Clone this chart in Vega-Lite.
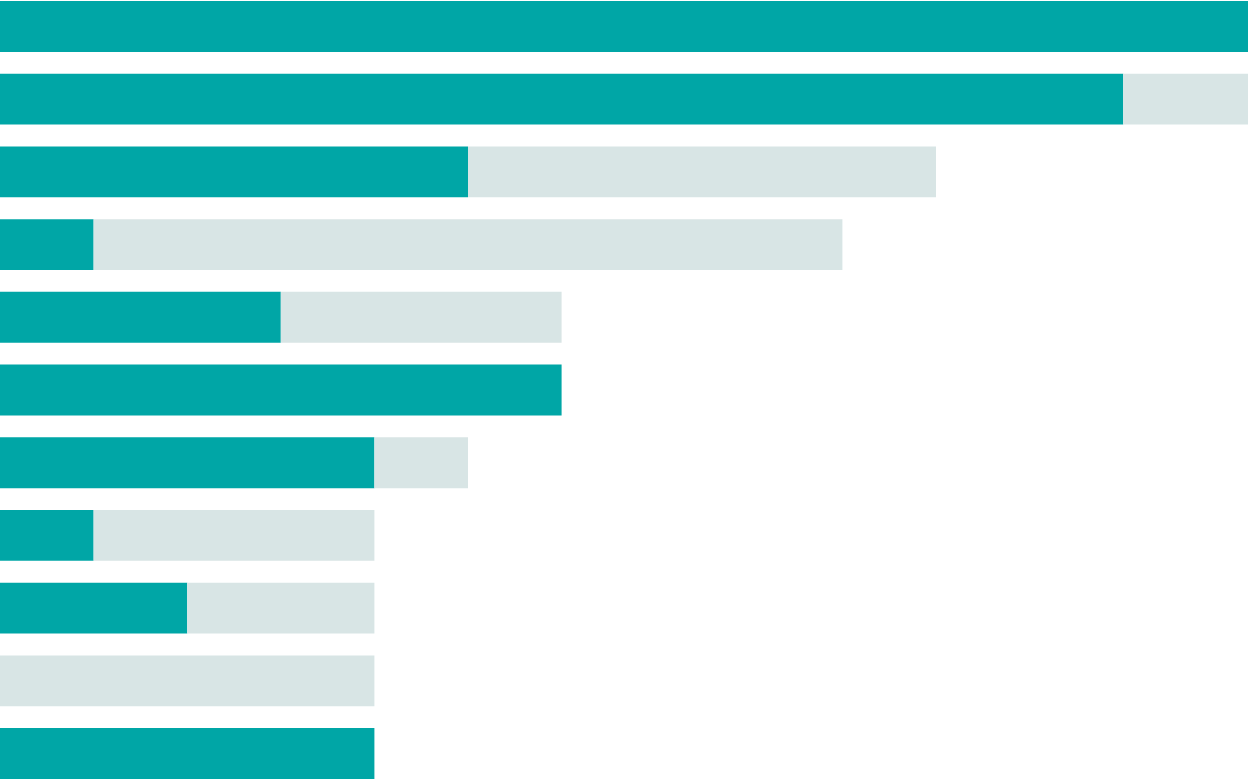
{
  "$schema": "https://vega.github.io/schema/vega-lite/v6.json",
  "autosize": {"type": "fit", "contains": "padding"},
  "width": 1248,
  "height": 780,
  "padding": 0,
  "background": "white",
  "config": {"view": {"stroke": null}},
  "data": {
    "values": [
      {"row": 1, "part": "a", "ord": 1, "value": 40},
      {"row": 1, "part": "b", "ord": 2, "value": 0},
      {"row": 2, "part": "a", "ord": 1, "value": 36},
      {"row": 2, "part": "b", "ord": 2, "value": 4},
      {"row": 3, "part": "a", "ord": 1, "value": 15},
      {"row": 3, "part": "b", "ord": 2, "value": 15},
      {"row": 4, "part": "a", "ord": 1, "value": 3},
      {"row": 4, "part": "b", "ord": 2, "value": 24},
      {"row": 5, "part": "a", "ord": 1, "value": 9},
      {"row": 5, "part": "b", "ord": 2, "value": 9},
      {"row": 6, "part": "a", "ord": 1, "value": 18},
      {"row": 6, "part": "b", "ord": 2, "value": 0},
      {"row": 7, "part": "a", "ord": 1, "value": 12},
      {"row": 7, "part": "b", "ord": 2, "value": 3},
      {"row": 8, "part": "a", "ord": 1, "value": 3},
      {"row": 8, "part": "b", "ord": 2, "value": 9},
      {"row": 9, "part": "a", "ord": 1, "value": 6},
      {"row": 9, "part": "b", "ord": 2, "value": 6},
      {"row": 10, "part": "a", "ord": 1, "value": 0},
      {"row": 10, "part": "b", "ord": 2, "value": 12},
      {"row": 11, "part": "a", "ord": 1, "value": 12},
      {"row": 11, "part": "b", "ord": 2, "value": 0}
    ]
  },
  "mark": {"type": "bar"},
  "encoding": {
    "y": {
      "field": "row", "type": "ordinal", "axis": null,
      "scale": {"paddingInner": 0.3, "paddingOuter": 0}
    },
    "x": {
      "field": "value", "type": "quantitative", "stack": "zero", "axis": null,
      "scale": {"domain": [0, 40], "nice": false, "zero": true}
    },
    "color": {
      "field": "part", "type": "nominal", "legend": null,
      "scale": {"domain": ["a", "b"], "range": ["#00A6A6", "#D8E5E5"]}
    },
    "order": {"field": "ord", "type": "quantitative"}
  }
}
